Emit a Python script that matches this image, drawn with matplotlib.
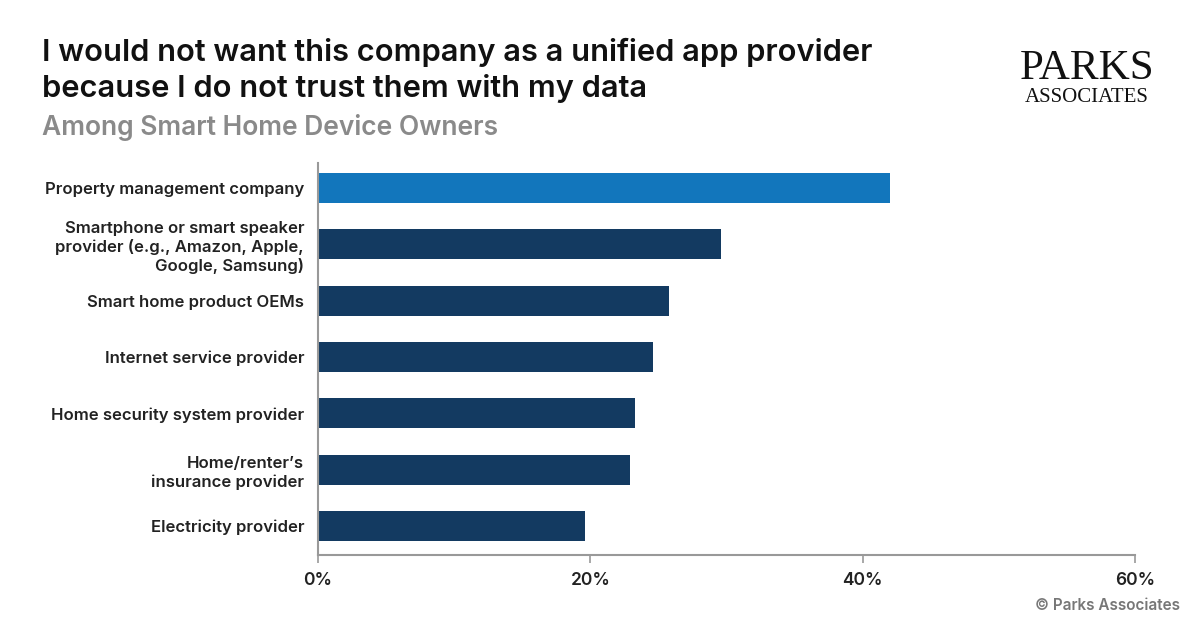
import matplotlib
matplotlib.use("Agg")
import matplotlib.pyplot as plt

categories = [
    "Property management company",
    "Smartphone or smart speaker\nprovider (e.g., Amazon, Apple,\nGoogle, Samsung)",
    "Smart home product OEMs",
    "Internet service provider",
    "Home security system provider",
    "Home/renter\u2019s\ninsurance provider",
    "Electricity provider",
]
values = [42.0, 29.6, 25.8, 24.6, 23.3, 22.9, 19.6]
ticks = [0, 20, 40, 60]
tick_labels = ["0%", "20%", "40%", "60%"]

highlight = "#1276BC"
dark = "#133A61"
colors = [highlight] + [dark] * (len(values) - 1)

plt.rcParams['font.family'] = ['Inter', 'DejaVu Sans']

fig = plt.figure(figsize=(12.01, 6.28), dpi=100)
ax = fig.add_axes([318 / 1201, 1 - 555 / 628, (1135 - 318) / 1201, (555 - 163) / 628])

y = list(range(len(values)))
ax.barh(y, values, height=0.53, color=colors, zorder=2)
ax.set_ylim(len(values) - 1 + 0.515, -0.444)
ax.set_xlim(0, 60)

ax.set_yticks(y)
ax.set_yticklabels(categories, fontsize=12, color="#222222", fontweight="semibold",
                   linespacing=1.25)
ax.tick_params(axis="y", length=0, pad=10)
ax.set_xticks(ticks)
ax.set_xticklabels(tick_labels, fontsize=12.5, color="#222222", fontweight="semibold")
ax.tick_params(axis="x", length=6, color="#999999", width=1.2, pad=6)

for s in ["top", "right"]:
    ax.spines[s].set_visible(False)
for s in ["left", "bottom"]:
    ax.spines[s].set_color("#999999")
    ax.spines[s].set_linewidth(1.5)

fig.text(42 / 1201, 1 - 61 / 628, "I would not want this company as a unified app provider",
         fontsize=22.2, fontweight="semibold", color="#111111")
fig.text(42 / 1201, 1 - 97 / 628, "because I do not trust them with my data",
         fontsize=22.2, fontweight="semibold", color="#111111")
fig.text(42 / 1201, 1 - 135 / 628, "Among Smart Home Device Owners",
         fontsize=19, fontweight="semibold", color="#8a8a8a")

# logo
fig.text(1087 / 1201, 1 - 79 / 628, "PARKS", fontsize=31, family="Liberation Serif",
         ha="center", color="#111111")
fig.text(1087 / 1201, 1 - 88 / 628, "ASSOCIATES", fontsize=15, family="Liberation Serif",
         ha="center", va="top", color="#111111")

fig.text(1180 / 1201, 1 - 610 / 628, "\u00a9 Parks Associates", fontsize=11,
         fontweight="semibold", color="#777777", ha="right")

fig.savefig("out.png", dpi=100)
